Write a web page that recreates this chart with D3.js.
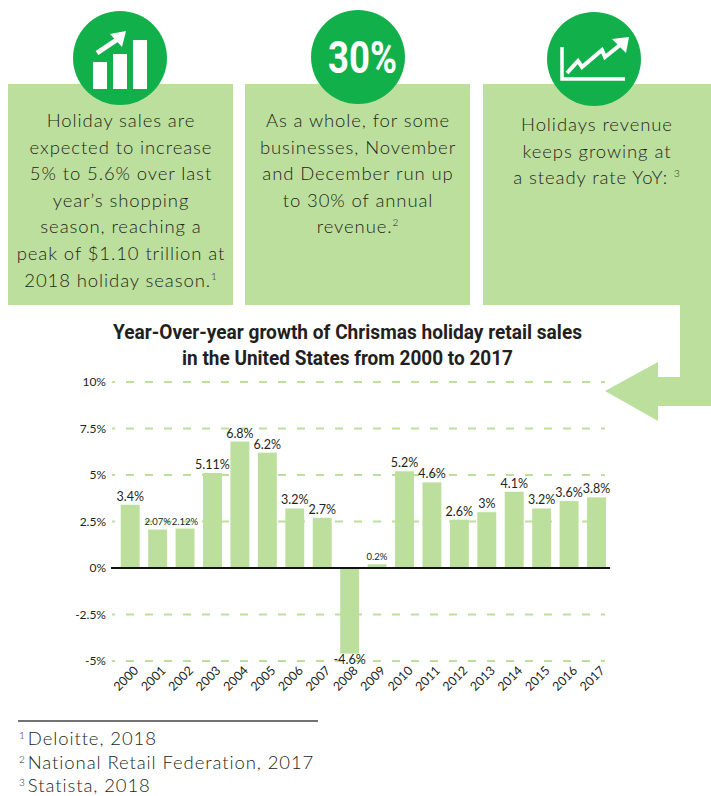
<!DOCTYPE html>
<html>
<head>
<meta charset="utf-8">
<script src="https://cdn.jsdelivr.net/npm/d3@7"></script>
<style>
body { margin: 0; background: #fff; }
svg { display: block; }
</style>
</head>
<body>
<div id="chart"></div>
<script>
// data
var years = ['2000','2001','2002','2003','2004','2005','2006','2007','2008',
             '2009','2010','2011','2012','2013','2014','2015','2016','2017'];
var growth = [3.4, 2.07, 2.12, 5.11, 6.8, 6.2, 3.2, 2.7, -4.6,
              0.2, 5.2, 4.6, 2.6, 3, 4.1, 3.2, 3.6, 3.8];
var yTicks = [-5, -2.5, 0, 2.5, 5, 7.5, 10];
var yTickLabels = ['-5%', '-2.5%', '0%', '2.5%', '5%', '7.5%', '10%'];

var titleLines = ['Year-Over-year growth of Chrismas holiday retail sales',
                  'in the United States from 2000 to 2017'];
var box1Lines = ['Holiday sales are', 'expected to increase', '5% to 5.6% over last',
                 'year\u2019s shopping', 'season, reaching a', 'peak of $1.10 trillion at',
                 '2018 holiday season.'];
var box2Lines = ['As a whole, for some', 'businesses, November', 'and December run up',
                 'to 30% of annual', 'revenue.'];
var box3Lines = ['Holidays revenue', 'keeps growing at', 'a steady rate YoY: '];
var footnotes = ['Deloitte, 2018', 'National Retail Federation, 2017', 'Statista, 2018'];

var W = 711, H = 796;
var lightGreen = '#bddf9d', darkGreen = '#12b04b', ink = '#231f20';
var bodyFont = 'Lato, "Open Sans", sans-serif';

var svg = d3.select('#chart').append('svg')
    .attr('width', W).attr('height', H);

/* boxes + the arrow coming out of the third one */
svg.append('rect').attr('x', 8).attr('y', 84).attr('width', 225).attr('height', 221).attr('fill', lightGreen);
svg.append('rect').attr('x', 245).attr('y', 84).attr('width', 225).attr('height', 221).attr('fill', lightGreen);
svg.append('path')
    .attr('d', 'M483,84 H711 V406 H658 V421 L605,391 L658,362 V377 H680 V305 H483 Z')
    .attr('fill', lightGreen);

// icon circles
var icons = svg.append('g');
icons.append('circle').attr('cx', 120).attr('cy', 58).attr('r', 47).attr('fill', darkGreen);
icons.append('circle').attr('cx', 358).attr('cy', 57).attr('r', 47).attr('fill', darkGreen);
icons.append('circle').attr('cx', 594).attr('cy', 59).attr('r', 47).attr('fill', darkGreen);

// icon 1: bars with arrow
icons.append('rect').attr('x', 93).attr('y', 62).attr('width', 14).attr('height', 27).attr('fill', '#fff');
icons.append('rect').attr('x', 113).attr('y', 54).attr('width', 14).attr('height', 35).attr('fill', '#fff');
icons.append('rect').attr('x', 133).attr('y', 40).attr('width', 14).attr('height', 49).attr('fill', '#fff');
icons.append('line').attr('x1', 97).attr('y1', 53).attr('x2', 118).attr('y2', 39)
    .attr('stroke', '#fff').attr('stroke-width', 5);
icons.append('path').attr('d', 'M126,31 L110,34 L122,47 Z').attr('fill', '#fff');

// icon 2: 30%
icons.append('text').attr('x', 328).attr('y', 73)
    .attr('textLength', 69).attr('lengthAdjust', 'spacingAndGlyphs')
    .style('font-family', 'Roboto, sans-serif').style('font-weight', 700)
    .style('font-size', '44px').attr('fill', '#fff').text('30%');

// icon 3: rising line chart
icons.append('path').attr('d', 'M562,47 V79 H625')
    .attr('fill', 'none').attr('stroke', '#fff').attr('stroke-width', 3.5);
icons.append('path').attr('d', 'M567,73 L578,61 L582,67 L602,50 L605,57 L620,45')
    .attr('fill', 'none').attr('stroke', '#fff').attr('stroke-width', 4).attr('stroke-linejoin', 'miter');
icons.append('path').attr('d', 'M629,37 L612,39 L626,53 Z').attr('fill', '#fff');

function boxText(lines, cx, y0, sup) {
    var t = svg.append('text')
        .attr('text-anchor', 'middle')
        .style('font-family', bodyFont).style('font-weight', 300)
        .style('font-size', '18.5px').style('letter-spacing', '0.9px').attr('fill', ink);
    lines.forEach(function (l, i) {
        var ts = t.append('tspan').attr('x', cx).attr('y', y0 + i * 26.6).text(l);
        if (i == lines.length - 1 && sup) {
            t.append('tspan').attr('dy', -7).style('font-size', '10px').text(sup);
        }
    });
}
boxText(box1Lines, 121, 127, '1');
boxText(box2Lines, 358, 127, '2');
boxText(box3Lines, 597, 131, '3');

// title
svg.append('g').selectAll('text').data(titleLines).join('text')
    .attr('x', function (d, i) { return i == 0 ? 113 : 182; })
    .attr('y', function (d, i) { return 339 + i * 26; })
    .attr('textLength', function (d, i) { return i == 0 ? 469 : 331; })
    .attr('lengthAdjust', 'spacingAndGlyphs')
    .style('font-family', 'Roboto, sans-serif').style('font-weight', 700)
    .style('font-size', '21px').attr('fill', ink)
    .text(function (d) { return d; });

/* chart */
var y = d3.scaleLinear().domain([-5, 10]).range([661, 382]);
var x = d3.scaleBand().domain(years).range([112.5, 614.2])
    .paddingInner(0.31).paddingOuter(0.3);

var grid = svg.append('g');
grid.selectAll('line').data(yTicks.filter(function (d) { return d != 0; })).join('line')
    .attr('x1', 112).attr('x2', 605)
    .attr('y1', function (d) { return y(d); }).attr('y2', function (d) { return y(d); })
    .attr('stroke', lightGreen).attr('stroke-width', 2)
    .attr('stroke-dasharray', '8,11').attr('stroke-dashoffset', 5);

var yAxis = d3.axisLeft(y).tickValues(yTicks).tickSize(0).tickPadding(0)
    .tickFormat(function (d, i) { return yTickLabels[i]; });
var yg = svg.append('g').attr('transform', 'translate(106,0)').call(yAxis);
yg.select('.domain').remove();
yg.selectAll('text').style('font-family', bodyFont).style('font-size', '12px').attr('fill', ink);

svg.append('g').selectAll('rect').data(growth).join('rect')
    .attr('x', function (d, i) { return x(years[i]); })
    .attr('width', x.bandwidth())
    .attr('y', function (d) { return y(Math.max(0, d)); })
    .attr('height', function (d) { return Math.abs(y(d) - y(0)); })
    .attr('fill', lightGreen);

var smallLabels = ['2001', '2002', '2009'];
svg.append('g').selectAll('text').data(growth).join('text')
    .attr('x', function (d, i) { return x(years[i]) + x.bandwidth() / 2; })
    .attr('y', function (d) { return d < 0 ? y(d) + 10 : y(d) - 4; })
    .attr('text-anchor', 'middle')
    .style('font-family', bodyFont)
    .style('font-size', function (d, i) { return smallLabels.indexOf(years[i]) >= 0 ? '9.5px' : '12.5px'; })
    .attr('fill', ink)
    .text(function (d) { return d + '%'; });

// zero line
svg.append('line').attr('x1', 111).attr('x2', 610)
    .attr('y1', y(0)).attr('y2', y(0))
    .attr('stroke', '#111').attr('stroke-width', 2);

var xAxis = d3.axisBottom(x).tickSize(0).tickPadding(0);
var xg = svg.append('g').attr('transform', 'translate(0,668)').call(xAxis);
xg.select('.domain').remove();
xg.selectAll('text')
    .attr('text-anchor', 'end').attr('dy', '0.7em').attr('x', 4).attr('y', 0)
    .attr('transform', 'rotate(-45)')
    .style('font-family', bodyFont).style('font-size', '12.5px').attr('fill', ink);

/* footnotes */
svg.append('line').attr('x1', 18).attr('x2', 318).attr('y1', 721).attr('y2', 721)
    .attr('stroke', '#444').attr('stroke-width', 1.5);
var fn = svg.append('g').selectAll('text').data(footnotes).join('text')
    .attr('x', 19).attr('y', function (d, i) { return 745 + i * 23.5; })
    .style('font-family', bodyFont).style('font-weight', 300)
    .style('font-size', '18.5px').style('letter-spacing', '0.9px').attr('fill', ink);
fn.append('tspan').attr('dy', -6).style('font-size', '10px').style('letter-spacing', '0').text(function (d, i) { return i + 1; });
fn.append('tspan').attr('dy', 6).attr('dx', 3).text(function (d) { return d; });
</script>
</body>
</html>
